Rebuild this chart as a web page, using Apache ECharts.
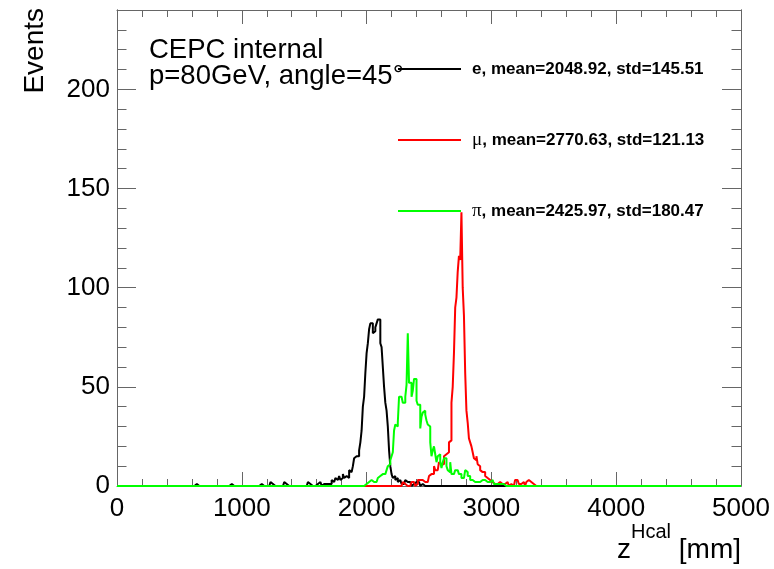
<!DOCTYPE html>
<html>
<head>
<meta charset="utf-8">
<script src="https://cdn.jsdelivr.net/npm/echarts@6/dist/echarts.min.js"></script>
<style>
html,body{margin:0;padding:0;background:#fff;}
#chart{width:774px;height:569px;}
</style>
</head>
<body>
<div id="chart"></div>
<script>
// ---- data (bin width 10 mm, counts per bin starting at the given low edge) ----
const binWidth = 10;
const xRange = [0, 5000];
const yRange = [0, 240];
const xTicks = [0, 1000, 2000, 3000, 4000, 5000];
const yTicks = [0, 50, 100, 150, 200];

const eStart = 620;
const eCounts = [
  0,1,1,0,0,0,0,0,0,0,
  0,0,1,0,0,0,0,0,0,0,
  0,0,0,0,0,0,0,0,1,1,
  0,0,0,0,0,0,0,0,0,0,
  0,0,0,0,0,0,0,0,0,0,
  0,0,0,1,1,0,1,0,0,0,
  0,2,1,2,0,0,0,0,0,0,
  0,1,2,1,0,0,0,0,1,0,
  1,0,1,0,1,0,0,0,0,0,
  1,2,1,0,0,0,0,1,1,0,
  2,1,0,1,2,1,0,1,2,1,
  3,2,3,4,3,2,5,3,4,6,
  4,5,5,4,8,7,8,10,14,15,
  14,15,18,22,28,40,45,57,67,72,
  79,82,82,77,78,80,82,84,84,72,
  70,60,50,42,38,30,18,10,6,4,
  5,3,4,2,3,2,1,1,2,3,
  2,1,2,1,0,1,0,2,1,2,
  1,0,1
];

const muStart = 2280;
const muCounts = [
  1,2,1,1,0,0,0,0,2,2,
  1,0,1,3,3,2,3,3,2,1,
  2,3,5,6,5,6,10,8,8,9,
  12,11,12,11,15,16,15,17,22,23,
  42,50,67,90,95,108,116,114,138,100,
  86,57,38,32,24,22,20,17,14,13,
  15,11,10,8,7,6,7,5,4,4,
  3,3,2,2,1,2,1,0,2,1,
  1,0,1,1,2,1,0,1,1,0,
  1,3,3,2,1,1,1,2,1,0,
  2,3,3,2,3,1
];

const piStart = 1960;
const piCounts = [
  1,0,1,1,1,2,2,3,2,2,
  3,2,3,4,5,6,6,7,6,7,
  8,10,11,13,15,17,28,31,30,32,
  45,45,44,42,42,45,51,77,52,52,
  45,48,54,54,43,41,41,29,35,37,
  38,36,33,31,30,22,15,18,20,16,
  12,15,16,12,9,12,14,14,10,8,
  7,12,6,6,7,8,8,7,6,6,
  4,4,5,8,7,5,5,3,3,3,
  2,3,2,1,2,2,3,2,3,2,
  2,1,2,3,3,2,1,1,0,1,
  1,1,0,1,1,0
];

const seriesNames = ['e', 'μ', 'π'];
const seriesMeans = ['2048.92', '2770.63', '2425.97'];
const seriesStds = ['145.51', '121.13', '180.47'];
const seriesColors = ['#000000', '#ff0000', '#00ff00'];

const labelLine1 = 'CEPC internal';
const labelLine2 = 'p=80GeV, angle=45°';
const yTitle = 'Events';

// ---- helpers ----
function fullHist(start, counts) {
  const n = Math.round((xRange[1] - xRange[0]) / binWidth);
  const arr = new Array(n).fill(0);
  const s = Math.round((start - xRange[0]) / binWidth);
  counts.forEach((c, i) => { if (s + i >= 0 && s + i < n) arr[s + i] = c; });
  return arr;
}
function stepPoints(arr) {
  const pts = [];
  arr.forEach((c, i) => {
    const lo = xRange[0] + i * binWidth;
    pts.push([lo, c], [lo + binWidth, c]);
  });
  return pts;
}
const hists = [fullHist(eStart, eCounts), fullHist(muStart, muCounts), fullHist(piStart, piCounts)];

const FONT = 'Liberation Sans, Arial, Helvetica, sans-serif';
const AX = '#666';

function xAxisCfg(pos, showLabel) {
  return {
    type: 'value', position: pos, min: xRange[0], max: xRange[1], interval: 1000,
    axisLine: { show: true, onZero: false, lineStyle: { color: AX, width: 1 } },
    axisTick: { show: true, inside: true, length: 14, lineStyle: { color: AX, width: 1 } },
    minorTick: { show: true, splitNumber: 5, length: 7, lineStyle: { color: AX, width: 1 } },
    axisLabel: { show: showLabel, fontSize: 26, fontFamily: FONT, color: '#000', margin: 10,
      formatter: v => (xTicks.indexOf(v) >= 0 ? String(v) : '') },
    splitLine: { show: false }, minorSplitLine: { show: false }
  };
}
function yAxisCfg(pos, interval, tickLen, showLabel) {
  return {
    type: 'value', position: pos, min: yRange[0], max: yRange[1], interval: interval,
    axisLine: { show: true, onZero: false, lineStyle: { color: AX, width: 1 } },
    axisTick: { show: true, inside: true, length: tickLen, lineStyle: { color: AX, width: 1 } },
    axisLabel: { show: showLabel, fontSize: 26, fontFamily: FONT, color: '#000', margin: 7,
      showMaxLabel: false,
      formatter: v => (yTicks.indexOf(v) >= 0 ? String(v) : '') },
    splitLine: { show: false }
  };
}

const chart = echarts.init(document.getElementById('chart'), null, { renderer: 'canvas' });
chart.setOption({
  animation: false,
  backgroundColor: '#ffffff',
  grid: { left: 117, right: 33, top: 10, bottom: 83, containLabel: false },
  xAxis: [xAxisCfg('bottom', true), xAxisCfg('top', false)],
  yAxis: [
    yAxisCfg('left', 50, 19, true),
    yAxisCfg('left', 10, 9.5, false),
    yAxisCfg('right', 50, 19, false),
    yAxisCfg('right', 10, 9.5, false)
  ],
  legend: {
    data: seriesNames,
    orient: 'vertical',
    left: 398, top: 59,
    padding: 0,
    itemWidth: 63, itemHeight: 2, itemGap: 51,
    icon: 'rect',
    selectedMode: false,
    formatter: function (name) {
      const i = seriesNames.indexOf(name);
      const head = i === 0 ? '{b|e}' : '{sym|' + name + '}';
      return head + '{b|, mean=' + seriesMeans[i] + ', std=' + seriesStds[i] + '}';
    },
    textStyle: {
      fontFamily: FONT, fontSize: 17, fontWeight: 'bold', color: '#000',
      lineHeight: 20, padding: [0, 0, 0, 6],
      rich: {
        b: { fontFamily: FONT, fontSize: 17, fontWeight: 'bold', color: '#000', lineHeight: 20 },
        sym: { fontFamily: 'Liberation Serif, DejaVu Serif, serif', fontSize: 19, fontWeight: 'normal', color: '#000', lineHeight: 20 }
      }
    }
  },
  series: seriesNames.map((name, k) => ({
    name: name,
    type: 'line',
    xAxisIndex: 0, yAxisIndex: 0,
    data: stepPoints(hists[k]),
    symbol: 'none', showSymbol: false,
    lineStyle: { color: seriesColors[k], width: 2 },
    itemStyle: { color: seriesColors[k] },
    clip: true,
    z: 2 + k
  })),
  graphic: [
    { type: 'text', x: 149, y: 50, silent: true,
      style: { text: labelLine1, font: '27.5px ' + FONT, fill: '#000',
        textAlign: 'left', align: 'left', textVerticalAlign: 'middle', verticalAlign: 'middle' } },
    { type: 'text', x: 149, y: 76, silent: true,
      style: { text: labelLine2, font: '27.5px ' + FONT, fill: '#000',
        textAlign: 'left', align: 'left', textVerticalAlign: 'middle', verticalAlign: 'middle' } },
    { type: 'text', x: 35, y: 8, rotation: Math.PI / 2, silent: true,
      style: { text: yTitle, font: '28px ' + FONT, fill: '#000',
        textAlign: 'right', align: 'right', textVerticalAlign: 'middle', verticalAlign: 'middle' } },
    { type: 'text', x: 741, y: 543, silent: true,
      style: {
        text: '{n|z}{s|Hcal}{n| [mm]}',
        textAlign: 'right', align: 'right', textVerticalAlign: 'middle', verticalAlign: 'middle',
        rich: {
          n: { font: '28px ' + FONT, fill: '#000', lineHeight: 42, verticalAlign: 'bottom' },
          s: { font: '20px ' + FONT, fill: '#000', lineHeight: 42, verticalAlign: 'top' }
        }
      } }
  ]
});
</script>
</body>
</html>
